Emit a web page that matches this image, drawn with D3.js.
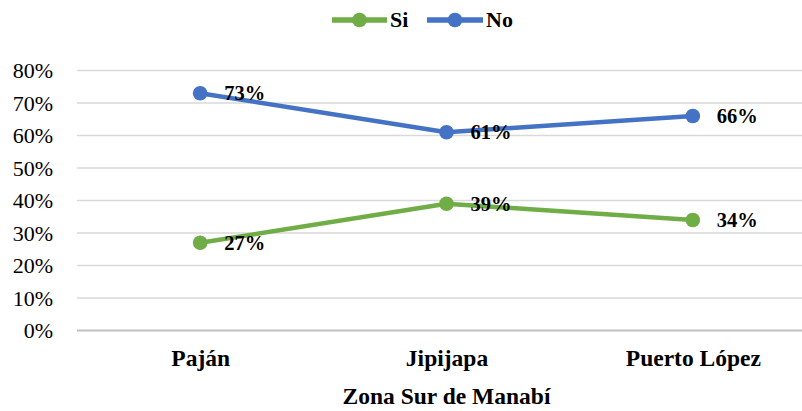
<!DOCTYPE html>
<html>
<head>
<meta charset="utf-8">
<script src="https://cdn.jsdelivr.net/npm/d3@7"></script>
<style>
  html, body { margin: 0; padding: 0; background: #fff; }
  svg { display: block; }
  text { font-family: "Liberation Serif", "Times New Roman", serif; }
</style>
</head>
<body>
<svg id="chart" width="802" height="411"></svg>
<script>
const categories = ["Paján", "Jipijapa", "Puerto López"];
const seriesNames = ["Si", "No"];
const siValues = [0.27, 0.39, 0.34];
const noValues = [0.73, 0.61, 0.66];
const yTicks = [0, 0.1, 0.2, 0.3, 0.4, 0.5, 0.6, 0.7, 0.8];
const xTitle = "Zona Sur de Manabí";
const colors = { "Si": "#70AD47", "No": "#4472C4" };

const series = [
  { name: seriesNames[0], values: siValues },
  { name: seriesNames[1], values: noValues }
];

const svg = d3.select("#chart");
const plotLeft = 77, plotRight = 816, plotTop = 70.5, plotBottom = 330.5;

const x = d3.scalePoint().domain(categories).range([plotLeft, plotRight]).padding(0.5);
const y = d3.scaleLinear().domain([0, 0.8]).range([plotBottom, plotTop]);

// gridlines
svg.append("g").selectAll("line").data(yTicks).join("line")
  .attr("x1", plotLeft).attr("x2", 802)
  .attr("y1", d => y(d)).attr("y2", d => y(d))
  .attr("stroke", d => d === 0 ? "#bfbfbf" : "#d9d9d9")
  .attr("stroke-width", d => d === 0 ? 2 : 1.5);

// y axis labels
const yAxis = d3.axisLeft(y).tickValues(yTicks).tickFormat(d3.format(".0%")).tickSize(0).tickPadding(0);
const yg = svg.append("g").attr("transform", `translate(53,0)`).call(yAxis);
yg.select(".domain").remove();
yg.selectAll("text").attr("font-size", "22px").attr("fill", "#000")
  .attr("font-family", "'Liberation Serif', 'Times New Roman', serif").attr("dy", "0.34em");

// x axis labels
const xAxis = d3.axisBottom(x).tickSize(0).tickPadding(0);
const xg = svg.append("g").attr("transform", `translate(0,366)`).call(xAxis);
xg.select(".domain").remove();
xg.selectAll("text").attr("font-size", "23.5px").attr("font-weight", "bold").attr("fill", "#000")
  .attr("font-family", "'Liberation Serif', 'Times New Roman', serif").attr("dy", 0);

// x title
svg.append("text").attr("x", (plotLeft + plotRight) / 2).attr("y", 404)
  .attr("text-anchor", "middle").attr("font-size", "23.5px").attr("font-weight", "bold")
  .text(xTitle);

// lines
const line = d3.line().x((d, i) => x(categories[i])).y(d => y(d));
series.forEach(s => {
  const g = svg.append("g");
  g.append("path").datum(s.values).attr("d", line)
    .attr("fill", "none").attr("stroke", colors[s.name]).attr("stroke-width", 4.5)
    .attr("stroke-linejoin", "round");
  g.selectAll("circle").data(s.values).join("circle")
    .attr("cx", (d, i) => x(categories[i])).attr("cy", d => y(d)).attr("r", 7.3)
    .attr("fill", colors[s.name]);
  g.selectAll("text").data(s.values).join("text")
    .attr("x", (d, i) => x(categories[i]) + 24).attr("y", d => y(d))
    .attr("dy", "0.35em").attr("font-size", "20.5px").attr("font-weight", "bold")
    .text(d => d3.format(".0%")(d));
});

// legend
const legendItems = [
  { name: "Si", x1: 332, x2: 387, tx: 390 },
  { name: "No", x1: 427, x2: 483, tx: 486 }
];
const lg = svg.append("g");
legendItems.forEach(it => {
  lg.append("line").attr("x1", it.x1).attr("x2", it.x2).attr("y1", 20).attr("y2", 20)
    .attr("stroke", colors[it.name]).attr("stroke-width", 5.5);
  lg.append("circle").attr("cx", (it.x1 + it.x2) / 2).attr("cy", 20).attr("r", 7.3)
    .attr("fill", colors[it.name]);
  lg.append("text").attr("x", it.tx).attr("y", 27).attr("font-size", "22px")
    .attr("font-weight", "bold").text(it.name);
});
</script>
</body>
</html>
